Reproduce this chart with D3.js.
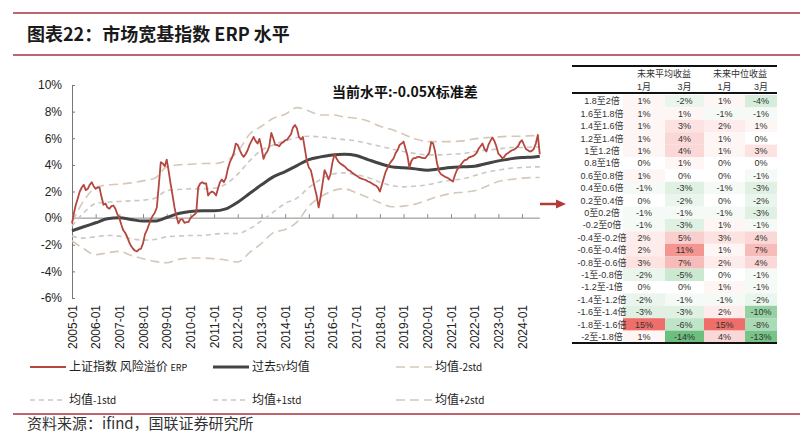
<!DOCTYPE html>
<html>
<head>
<meta charset="utf-8">
<script src="https://cdn.jsdelivr.net/npm/d3@7"></script>
<style>
body { margin: 0; background: #fff; }
svg text { font-family: "Liberation Sans", Arial, "Noto Sans CJK SC", sans-serif; }
</style>
</head>
<body>
<svg id="chart" width="812" height="432"></svg>
<script>
"use strict"

// monthly ERP (%), 2005-01 .. 2024-10
const erp = [
  -0.4, 0.4, 1.0, 1.5, 2.0, 2.3, 2.5, 2.1, 2.2, 2.5, 2.7, 2.4,
  2.2, 2.3, 2.3, 1.6, 1.0, 1.1, 0.8, 0.7, 0.9, 0.95, 0.7, 0.3,
  0.0, -0.5, -0.9, -1.1, -1.4, -1.8, -2.1, -2.3, -2.45, -2.5, -2.35, -2.3,
  -1.9, -1.2, -0.9, -0.5, -0.1, 0.2, 0.4, 0.8, 2.5, 4.2, 4.1, 3.9,
  4.4, 3.5, 2.6, 1.7, 0.8, 0.1, -0.4, -0.1, -0.1, -0.35, -0.3, -0.3,
  0.0, 0.15, 0.25, 0.4, 2.3, 2.6, 2.7, 2.6, 2.6, 1.7, 1.9, 2.0,
  1.9, 1.7, 2.2, 2.7, 2.9, 2.7, 3.0, 3.7, 4.2, 4.5, 4.9, 5.6,
  5.5, 5.1, 4.8, 4.6, 4.8, 5.1, 5.5, 5.8, 6.1, 5.8, 5.6, 5.95,
  5.3, 4.45, 4.8, 5.0, 5.4, 6.4, 6.0, 5.5, 5.5, 5.4, 5.6, 5.7,
  5.85, 5.9, 6.1, 6.3, 6.8, 7.0, 6.75, 6.1, 5.9, 6.1, 5.2, 4.3,
  3.8, 3.6, 3.0, 2.3, 1.7, 0.8, 1.6, 2.6, 3.6, 3.3, 2.9, 3.3,
  4.2, 4.8, 4.5, 4.25, 4.1, 4.0, 3.9, 3.75, 3.6, 3.55, 3.4, 3.3,
  3.2, 3.1, 3.0, 2.95, 2.9, 2.85, 2.75, 2.7, 2.6, 2.5, 2.45, 2.3,
  2.0, 2.5, 3.0, 3.5, 3.8, 4.1, 4.3, 4.5, 4.9, 5.1, 5.5, 5.6,
  5.75, 5.2, 4.7, 3.8, 4.3, 4.5, 4.5, 4.6, 4.6, 4.55, 4.5, 4.5,
  4.7, 4.9, 5.7, 5.6, 5.0, 4.1, 3.5, 3.3, 3.2, 3.1, 3.05, 2.95,
  2.85, 2.75, 3.2, 3.6, 3.8, 4.0, 4.2, 4.35, 4.4, 4.55, 4.6, 4.65,
  4.75, 4.9, 5.2, 5.4, 5.6, 5.2, 5.0, 5.5, 5.8, 6.05, 5.8, 5.4,
  4.85, 4.7, 4.5, 4.6, 4.8, 4.9, 5.0, 5.1, 5.15, 5.25, 5.4, 5.7,
  5.85, 5.5, 5.2, 5.1, 5.0, 5.05, 5.2, 5.6, 6.25, 4.8
];

// half-yearly band values (%), 2005-01, 2005-07 ... 2024-07, then 2024-10
const mean5y = [-0.95, -0.65, -0.35, -0.05, 0.02, -0.1, -0.22, -0.22, 0.05, 0.35, 0.5, 0.55, 0.55, 0.7, 1.2, 1.85, 2.5, 3.1, 3.5, 3.95,
  4.4, 4.6, 4.75, 4.8, 4.7, 4.4, 4.1, 3.85, 3.78, 3.7, 3.6, 3.7, 3.8, 3.85, 3.9, 4.1, 4.3, 4.45, 4.55, 4.6, 4.65];
const plus2 = [-0.3, 1.3, 2.3, 2.5, 2.55, 2.65, 2.8, 3.0, 3.85, 4.0, 4.05, 4.1, 4.1, 4.3, 5.0, 6.3, 6.9, 7.5, 7.8, 8.3,
  8.05, 7.75, 7.75, 7.6, 7.5, 7.3, 6.9, 6.65, 6.3, 5.95, 5.75, 5.75, 5.75, 5.8, 5.95, 6.05, 6.1, 6.15, 6.15, 6.2, 6.2];
const plus1 = [-0.6, 0.4, 1.1, 1.2, 1.25, 1.3, 1.35, 1.5, 2.05, 2.15, 2.2, 2.2, 2.25, 2.55, 3.3, 4.3, 5.1, 5.5, 5.8, 6.05,
  6.15, 6.1, 6.0, 5.9, 5.8, 5.6, 5.4, 5.2, 5.0, 4.85, 4.75, 4.75, 4.8, 4.85, 5.0, 5.1, 5.2, 5.3, 5.3, 5.35, 5.35];
const minus1 = [-1.35, -1.5, -1.4, -1.3, -1.35, -1.55, -1.65, -1.6, -1.4, -1.35, -1.3, -1.3, -1.2, -1.15, -1.15, -0.8, -0.2, 0.45, 1.1, 1.5,
  2.3, 2.9, 3.3, 3.4, 3.25, 3.05, 2.7, 2.45, 2.35, 2.4, 2.5, 2.7, 2.85, 2.95, 3.2, 3.45, 3.6, 3.75, 3.8, 3.85, 3.85];
const minus2 = [-1.7, -2.3, -2.75, -2.6, -2.5, -2.8, -3.05, -3.25, -3.35, -3.1, -3.0, -3.0, -3.05, -3.15, -3.3, -2.6, -1.9, -1.1, -0.85, -0.3,
  0.9, 1.6, 2.05, 2.2, 1.9, 1.55, 1.15, 0.85, 0.9, 1.05, 1.35, 1.65, 1.85, 1.95, 2.05, 2.4, 2.75, 2.9, 3.0, 3.05, 3.05];

const yTicks = [-6, -4, -2, 0, 2, 4, 6, 8, 10];
const xYears = d3.range(2005, 2025);

// table
const rowLabels = ["1.8至2倍", "1.6至1.8倍", "1.4至1.6倍", "1.2至1.4倍", "1至1.2倍", "0.8至1倍", "0.6至0.8倍", "0.4至0.6倍",
  "0.2至0.4倍", "0至0.2倍", "-0.2至0倍", "-0.4至-0.2倍", "-0.6至-0.4倍", "-0.8至-0.6倍", "-1至-0.8倍", "-1.2至-1倍",
  "-1.4至-1.2倍", "-1.6至-1.4倍", "-1.8至-1.6倍", "-2至-1.8倍"];
const avg1m = [1, 1, 1, 1, 1, 0, 1, -1, 0, -1, -1, 2, 2, 3, -2, 0, -2, -3, 15, 1];
const avg3m = [-2, 1, 3, 4, 4, 1, 0, -3, -2, -1, -3, 5, 11, 7, -5, 0, -1, -3, -6, -14];
const med1m = [1, -1, 2, 1, 1, 0, 0, -1, 0, -1, 1, 3, 1, 2, 0, 1, -1, 2, 15, 4];
const med3m = [-4, -1, 1, 0, 3, 0, -1, -3, -2, -3, -1, 4, 7, 4, -1, -1, -2, -10, -8, -13];

const parse = d3.timeParse("%Y-%m");
const erpDates = d3.timeMonth.range(parse("2005-01"), parse("2024-11"));
const bandDates = d3.timeMonth.every(6).range(parse("2005-01"), parse("2024-08")).concat([parse("2024-10")]);

const svg = d3.select("#chart");
const red = "#a8323e";

// page frame
[13, 55, 414].forEach(ly => {
  svg.append("line").attr("x1", 13).attr("x2", 800).attr("y1", ly).attr("y2", ly)
    .attr("stroke", red).attr("stroke-width", 1.3);
});

svg.append("text").attr("x", 27).attr("y", 41)
  .style("font-family", "'Noto Sans CJK SC', sans-serif")
  .attr("font-size", 18).attr("font-weight", 700).attr("fill", "#1a1a1a")
  .text("图表22：市场宽基指数 ERP 水平");

svg.append("text").attr("x", 27).attr("y", 429)
  .style("font-family", "'Noto Sans CJK SC', sans-serif")
  .attr("font-size", 15).attr("fill", "#333")
  .text("资料来源：ifind，国联证券研究所");

// scales
const x = d3.scaleTime().domain([parse("2005-01"), parse("2024-01")]).range([72, 522]);
const y = d3.scaleLinear().domain([-6, 10]).range([298, 85]);

// y axis
const yAxis = svg.append("g").attr("transform", "translate(72,0)")
  .call(d3.axisLeft(y).tickValues(yTicks).tickFormat(d => d + "%").tickSize(-3).tickSizeOuter(0).tickPadding(10));
yAxis.select(".domain").attr("stroke", "#777");
yAxis.selectAll(".tick line").attr("stroke", "#777");
yAxis.selectAll("text").attr("font-size", 12).attr("fill", "#222")
  .style("font-family", "'Liberation Sans', Arial, sans-serif");

// zero line with year ticks
svg.append("line").attr("x1", 72).attr("x2", x(erpDates[erpDates.length - 1]))
  .attr("y1", y(0)).attr("y2", y(0)).attr("stroke", "#8a8a8a").attr("stroke-width", 1);
const zeroAxis = svg.append("g").attr("transform", "translate(0," + y(0) + ")")
  .call(d3.axisBottom(x).tickValues(xYears.map(yr => new Date(yr, 0, 1))).tickFormat("").tickSize(-4).tickSizeOuter(0));
zeroAxis.select(".domain").remove();
zeroAxis.selectAll(".tick line").attr("stroke", "#8a8a8a");

// x labels
const xLab = svg.append("g").attr("transform", "translate(0,298)")
  .call(d3.axisBottom(x).tickValues(xYears.map(yr => new Date(yr, 0, 1))).tickFormat(d3.timeFormat("%Y-%m")).tickSize(0));
xLab.select(".domain").remove();
xLab.selectAll("text")
  .attr("font-size", 12).attr("fill", "#222")
  .style("font-family", "'Liberation Sans', Arial, sans-serif")
  .attr("text-anchor", "end")
  .attr("transform", "translate(0,7) rotate(-90)")
  .attr("x", 0).attr("y", 0).attr("dy", "0.35em");

// series
const bandLine = d3.line().x((d, i) => x(bandDates[i])).y(d => y(d)).curve(d3.curveMonotoneX);
const bands = [
  {data: minus2, color: "#d5c8ba", dash: "9,5"},
  {data: minus1, color: "#cbc8c4", dash: "5,4"},
  {data: plus1, color: "#cbc8c4", dash: "5,4"},
  {data: plus2, color: "#d5c8ba", dash: "9,5"}
];
svg.append("g").selectAll("path")
  .data(bands)
  .join("path")
  .attr("d", b => bandLine(b.data))
  .attr("fill", "none")
  .attr("stroke", b => b.color)
  .attr("stroke-width", 1.6)
  .attr("stroke-dasharray", b => b.dash);

svg.append("path")
  .attr("d", bandLine(mean5y))
  .attr("fill", "none").attr("stroke", "#444").attr("stroke-width", 3);

const erpLine = d3.line().x((d, i) => x(erpDates[i])).y(d => y(d));
svg.append("path")
  .attr("d", erpLine(erp))
  .attr("fill", "none").attr("stroke", "#b5473f").attr("stroke-width", 1.8)
  .attr("stroke-linejoin", "round");

svg.append("text").attr("x", 332).attr("y", 97)
  .attr("font-size", 14).attr("font-weight", 700).attr("fill", "#111")
  .style("font-family", "'Noto Sans CJK SC', sans-serif")
  .text("当前水平:-0.05X标准差");

// legend
const legendItems = [
  {parts: [["上证指数 风险溢价 ", 12], ["ERP", 9]], color: "#b5473f", w: 2, dash: null, lx: 30, ly: 367},
  {parts: [["过去", 12], ["5Y", 9], ["均值", 12]], color: "#444", w: 3, dash: null, lx: 213, ly: 367},
  {parts: [["均值", 12], ["-2std", 10]], color: "#d5c8ba", w: 1.6, dash: "9,5", lx: 396, ly: 367},
  {parts: [["均值", 12], ["-1std", 10]], color: "#cbc8c4", w: 1.6, dash: "5,4", lx: 30, ly: 400},
  {parts: [["均值", 12], ["+1std", 10]], color: "#cbc8c4", w: 1.6, dash: "5,4", lx: 213, ly: 400},
  {parts: [["均值", 12], ["+2std", 10]], color: "#d5c8ba", w: 1.6, dash: "9,5", lx: 396, ly: 400}
];
const leg = svg.append("g").selectAll("g").data(legendItems).join("g")
  .attr("transform", d => "translate(" + d.lx + "," + d.ly + ")");
leg.append("line").attr("x1", 0).attr("x2", 36).attr("y1", 0).attr("y2", 0)
  .attr("stroke", d => d.color).attr("stroke-width", d => d.w)
  .attr("stroke-dasharray", d => d.dash);
const legText = leg.append("text").attr("x", 39).attr("y", 4).attr("fill", "#222")
  .style("font-family", "'Noto Sans CJK SC', sans-serif");
legText.selectAll("tspan").data(d => d.parts).join("tspan")
  .attr("font-size", p => p[1]).text(p => p[0]);

// arrow
svg.append("line").attr("x1", 540).attr("x2", 558).attr("y1", 204).attr("y2", 204)
  .attr("stroke", "#b33a36").attr("stroke-width", 2.5);
svg.append("path").attr("d", "M556,199.5 L566,204 L556,208.5 Z").attr("fill", "#b33a36");

// table
const rowY = d3.scaleBand().domain(rowLabels).range([95, 343]);
const heat = d3.scaleLinear().domain([-14, 0, 15]).range(["#6cbf7f", "#ffffff", "#ee6e69"]);
const cols = [
  {x0: 623, x1: 665, data: avg1m, head: "1月"},
  {x0: 665, x1: 704, data: avg3m, head: "3月"},
  {x0: 704, x1: 745, data: med1m, head: "1月"},
  {x0: 745, x1: 777, data: med3m, head: "3月"}
];
const table = svg.append("g").style("font-family", "'Liberation Sans', Arial, 'Noto Sans CJK SC', sans-serif");

cols.forEach(c => {
  table.append("g").selectAll("rect")
    .data(c.data)
    .join("rect")
    .attr("x", c.x0).attr("width", c.x1 - c.x0)
    .attr("y", (d, i) => rowY(rowLabels[i])).attr("height", rowY.bandwidth())
    .attr("fill", d => heat(d));
  table.append("g").selectAll("text")
    .data(c.data)
    .join("text")
    .attr("x", (c.x0 + c.x1) / 2)
    .attr("y", (d, i) => rowY(rowLabels[i]) + rowY.bandwidth() / 2)
    .attr("dy", "0.35em").attr("text-anchor", "middle")
    .attr("font-size", 9).attr("fill", "#333")
    .text(d => d + "%");
  table.append("text").attr("x", (c.x0 + c.x1) / 2).attr("y", 86.5)
    .attr("dy", "0.35em").attr("text-anchor", "middle")
    .attr("font-size", 9).attr("fill", "#333").text(c.head);
});

table.append("g").selectAll("text")
  .data(rowLabels)
  .join("text")
  .attr("x", 602)
  .attr("y", d => rowY(d) + rowY.bandwidth() / 2)
  .attr("dy", "0.35em").attr("text-anchor", "middle")
  .attr("font-size", 9).attr("fill", "#333")
  .text(d => d);

table.append("text").attr("x", 664).attr("y", 73.5).attr("dy", "0.35em").attr("text-anchor", "middle")
  .attr("font-size", 9).attr("fill", "#333").text("未来平均收益");
table.append("text").attr("x", 740).attr("y", 73.5).attr("dy", "0.35em").attr("text-anchor", "middle")
  .attr("font-size", 9).attr("fill", "#333").text("未来中位收益");

[66, 93, 343].forEach(ly => {
  table.append("line").attr("x1", 572).attr("x2", 777).attr("y1", ly).attr("y2", ly)
    .attr("stroke", "#111").attr("stroke-width", 2);
});
</script>
</body>
</html>
